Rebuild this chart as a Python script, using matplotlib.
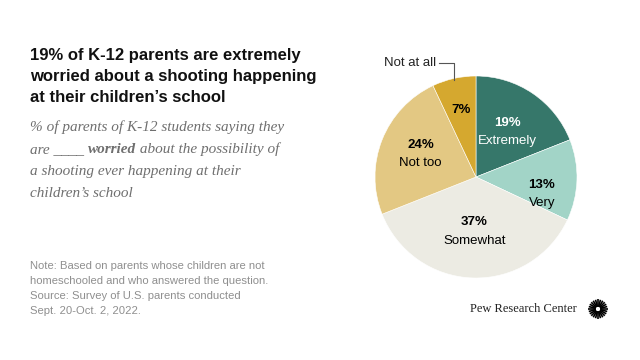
import matplotlib
matplotlib.use("Agg")
import matplotlib.pyplot as plt
import numpy as np

# data
labels = ["Extremely", "Very", "Somewhat", "Not too", "Not at all"]
values = [19, 13, 37, 24, 7]
colors = ["#36776a", "#a2d4c7", "#ecebe3", "#e3c883", "#d5a82f"]
text_colors = ["white", "black", "black", "black", "black"]

title = "19% of K-12 parents are extremely\nworried about a shooting happening\nat their children\u2019s school"
note = ("Note: Based on parents whose children are not\n"
        "homeschooled and who answered the question.\n"
        "Source: Survey of U.S. parents conducted\n"
        "Sept. 20-Oct. 2, 2022.")

W, H = 640, 360
fig = plt.figure(figsize=(6.4, 3.6), dpi=100)
fig.patch.set_facecolor("white")

# invisible full-figure axes for text placement
bg = fig.add_axes([0, 0, 1, 1])
bg.set_xlim(0, W)
bg.set_ylim(H, 0)
bg.axis("off")

# title
bg.text(30, 48, title, fontsize=12, fontweight="bold", family="Liberation Sans",
        va="top", ha="left", linespacing=1.48, color="#111111")

# subtitle, with bold "worried"
sub_kw = dict(fontsize=11, family="Liberation Serif", style="italic", color="#6f6f6f")
bg.text(30, 131, "% of parents of K-12 students saying they", va="baseline", **sub_kw)
t1 = bg.text(30, 153, "are ____ ", va="baseline", **sub_kw)
t2 = bg.annotate("worried", xy=(1, 0), xycoords=t1, va="bottom", ha="left",
                 fontweight="bold", **sub_kw)
bg.annotate(" about the possibility of", xy=(1, 0), xycoords=t2, va="bottom", ha="left", **sub_kw)
bg.text(30, 175, "a shooting ever happening at their", va="baseline", **sub_kw)
bg.text(30, 197, "children\u2019s school", va="baseline", **sub_kw)

# note
bg.text(30, 261, note, fontsize=8.1, family="Liberation Sans", color="#8f8f8f",
        va="top", ha="left", linespacing=1.62)

# pie
cx, cy, R = 476, 177, 101
ax = fig.add_axes([(cx - R) / W, 1 - (cy + R) / H, 2 * R / W, 2 * R / H])
wedges, _ = ax.pie(values, colors=colors, startangle=90, counterclock=False,
                   wedgeprops=dict(edgecolor="white", linewidth=0.4))
ax.set_xlim(-1, 1)
ax.set_ylim(-1, 1)
ax.set_aspect("auto")

# label placement (radius fraction, angle nudge in degrees)
label_pos = [(0.55, 0), (0.67, -12), (0.53, 0), (0.6, -2), (0.68, 0)]
for w, lab, v, tc, (r, da) in zip(wedges, labels, values, text_colors, label_pos):
    ang = np.deg2rad((w.theta1 + w.theta2) / 2 + da)
    x, y = r * np.cos(ang), r * np.sin(ang)
    if lab == "Not at all":
        ax.text(x, y, f"{v}%", ha="center", va="center", fontsize=9.5,
                fontweight="bold", family="Liberation Sans", color=tc)
        continue
    ax.text(x, y + 0.02, f"{v}%", ha="center", va="bottom", fontsize=9.5,
            fontweight="bold", family="Liberation Sans", color=tc)
    ax.text(x, y - 0.04, lab, ha="center", va="top", fontsize=9.5,
            family="Liberation Sans", color=tc)

# callout for "Not at all"
w = wedges[-1]
ang = np.deg2rad((w.theta1 + w.theta2) / 2)
ex = 0.98 * np.cos(ang)
ax.plot([ex, ex, ex - 0.15], [0.98 * np.sin(ang), 1.13, 1.13], color="#555555",
        lw=0.8, clip_on=False)
ax.text(ex - 0.18, 1.13, "Not at all", ha="right", va="center", fontsize=9.5,
        family="Liberation Sans", color="#222222", clip_on=False)

# logo
bg.text(470, 309, "Pew Research Center", fontsize=9, family="Liberation Serif",
        color="#222222", va="center", ha="left")
lax = fig.add_axes([(598 - 10) / W, 1 - (309 + 10) / H, 20 / W, 20 / H])
for a in np.linspace(0, 2 * np.pi, 24, endpoint=False):
    lax.plot([0.25 * np.cos(a), np.cos(a)], [0.25 * np.sin(a), np.sin(a)],
             color="black", lw=1.2, solid_capstyle="butt")
lax.set_xlim(-1.05, 1.05)
lax.set_ylim(-1.05, 1.05)
lax.axis("off")

fig.savefig("out.png", dpi=100)
